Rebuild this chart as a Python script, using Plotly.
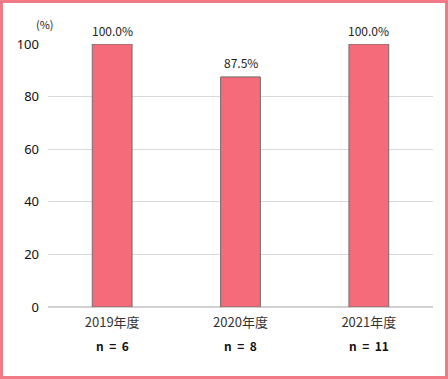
import plotly.graph_objects as go

categories = ["2019年度", "2020年度", "2021年度"]
values = [100.0, 87.5, 100.0]
n_labels = ["n = 6", "n = 8", "n = 11"]
y_ticks = [0, 20, 40, 60, 80, 100]

W, H = 448, 379
L, R, T, B = 48, 15, 44, 72
pw, ph = W - L - R, H - T - B
JP = "Noto Sans CJK JP"

fig = go.Figure(go.Bar(
    x=categories, y=values, width=0.31,
    marker=dict(color="#f66b79", line=dict(color="#6e6e6e", width=1)),
    cliponaxis=False, hoverinfo="skip",
))

annotations = []
for c, v in zip(categories, values):
    annotations.append(dict(x=c, y=v, xref="x", yref="y", yanchor="middle", yshift=14,
                            text=f"{v:.1f}%", showarrow=False,
                            font=dict(family=JP, size=12, color="#222")))
for c, n in zip(categories, n_labels):
    annotations.append(dict(x=c, y=0, xref="x", yref="paper", yanchor="middle", yshift=-38,
                            text=f"<b>{n.replace(' ', '&nbsp;&nbsp;')}</b>", showarrow=False,
                            font=dict(family=JP, size=12, color="#111")))
annotations.append(dict(x=-3 / pw, y=1 + 20 / ph, xref="paper", yref="paper", xanchor="center",
                        yanchor="middle", text="(%)", showarrow=False,
                        font=dict(family=JP, size=11, color="#222")))

fig.update_layout(
    width=W, height=H, margin=dict(l=L, r=R, t=T, b=B),
    paper_bgcolor="white", plot_bgcolor="white", showlegend=False,
    xaxis=dict(tickfont=dict(family=JP, size=13, color="#333"), showgrid=False,
               ticks="", showline=False, ticklabelstandoff=6),
    yaxis=dict(range=[0, 100], tickvals=y_ticks, showgrid=True, gridcolor="#d9d9d9",
               zeroline=True, zerolinecolor="#d0d0d0", zerolinewidth=2,
               tickfont=dict(family="Noto Sans", size=13, color="#111"), ticks="", ticklabelstandoff=8),
    annotations=annotations,
    shapes=[dict(type="rect", xref="paper", yref="paper",
                 x0=(1.5 - L) / pw, x1=(W - 1.5 - L) / pw,
                 y0=-(H - 1.5 - T - ph) / ph, y1=1 + (T - 1.5) / ph,
                 line=dict(color="#f27a86", width=3))],
)
post = ("document.documentElement.style.overflow='hidden';"
        "document.body.style.margin='0';document.body.style.overflow='hidden';"
        "var d=document.querySelector('.plotly-graph-div');"
        "d.style.outline='3px solid #f27a86';d.style.outlineOffset='-3px';")
fig.write_html("out.html", post_script=post, config={"displayModeBar": False})
